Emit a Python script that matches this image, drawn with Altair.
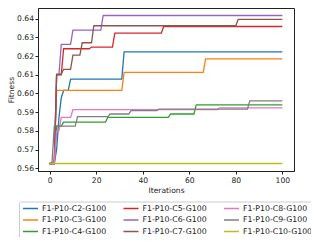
import altair as alt
import pandas as pd

names = ["F1-P10-C2-G100", "F1-P10-C3-G100", "F1-P10-C4-G100",
         "F1-P10-C5-G100", "F1-P10-C6-G100", "F1-P10-C7-G100",
         "F1-P10-C8-G100", "F1-P10-C9-G100", "F1-P10-C10-G100"]
colors = ["#1f77b4", "#ff7f0e", "#2ca02c", "#d62728", "#9467bd",
          "#8c564b", "#e377c2", "#7f7f7f", "#bcbd22"]

start_value = 0.5625
last_iter = 100

# (iteration at which the new best value appears, new value)
c2 = [(3, 0.5700), (4, 0.5870), (5, 0.5977), (6, 0.6016), (9, 0.6077), (32, 0.6222)]
c3 = [(3, 0.6016), (32, 0.6113), (67, 0.6185)]
c4 = [(3, 0.5825), (6, 0.5846), (25, 0.5872), (52, 0.5890), (63, 0.5939)]
c5 = [(3, 0.6100), (6, 0.6239), (18, 0.6248), (28, 0.6323), (49, 0.6358)]
c6 = [(3, 0.6100), (5, 0.6262), (10, 0.6339), (23, 0.6417)]
c7 = [(3, 0.6103), (6, 0.6129), (10, 0.6205), (14, 0.6271), (19, 0.6362), (81, 0.6396)]
c8 = [(3, 0.5800), (5, 0.5872), (10, 0.5913), (73, 0.5923)]
c9 = [(2, 0.5825), (12, 0.5876), (26, 0.5890), (35, 0.5908), (47, 0.5916), (86, 0.5960)]
c10 = []
changes = [c2, c3, c4, c5, c6, c7, c8, c9, c10]

rows = []
for name, ch in zip(names, changes):
    order = 0
    prev = start_value
    rows.append({"series": name, "it": 0, "fit": prev, "o": order})
    for it, val in ch:
        order += 1
        rows.append({"series": name, "it": it - 1, "fit": prev, "o": order})
        order += 1
        rows.append({"series": name, "it": it, "fit": val, "o": order})
        prev = val
    order += 1
    rows.append({"series": name, "it": last_iter, "fit": prev, "o": order})
df = pd.DataFrame(rows)

chart = alt.Chart(df).mark_line(strokeWidth=1.3, clip=True).encode(
    x=alt.X("it:Q", scale=alt.Scale(domain=[-5, 105], nice=False, zero=False),
            axis=alt.Axis(values=[0, 20, 40, 60, 80, 100], title="Iterations")),
    y=alt.Y("fit:Q", scale=alt.Scale(domain=[0.5585, 0.6457], nice=False, zero=False),
            axis=alt.Axis(values=[0.56, 0.57, 0.58, 0.59, 0.60, 0.61, 0.62, 0.63, 0.64],
                          format=".2f", title="Fitness")),
    color=alt.Color("series:N", scale=alt.Scale(domain=names, range=colors),
                    legend=alt.Legend(title=None, orient="none", legendX=-19, legendY=193.5,
                                      columns=3, symbolType="stroke", symbolSize=225,
                                      symbolStrokeWidth=1.5, labelFontSize=7.8,
                                      labelFont="DejaVu Sans", labelOffset=3,
                                      columnPadding=15.5, rowPadding=3.5, clipHeight=8,
                                      padding=3, strokeColor="#cccccc",
                                      cornerRadius=2, fillColor="white",
                                      labelColor="#222")),
    order="o:Q",
).properties(
    width=256, height=163,
    autosize=alt.AutoSizeParams(type="none"),
    padding={"left": 30, "top": 0, "right": 17, "bottom": 66},
).configure_axis(
    labelFont="DejaVu Sans", titleFont="DejaVu Sans", labelFontSize=7.6,
    titleFontSize=7.6, titleFontWeight="normal", labelColor="#222", titleColor="#222",
    tickColor="#222", domainColor="#222", grid=False, tickSize=3, labelPadding=2,
    titlePadding=3,
).configure_axisY(titlePadding=1, labelPadding=1.5).configure_view(stroke="#222", strokeWidth=1)

chart.save("out.html", embed_options={"renderer": "svg", "actions": False})
